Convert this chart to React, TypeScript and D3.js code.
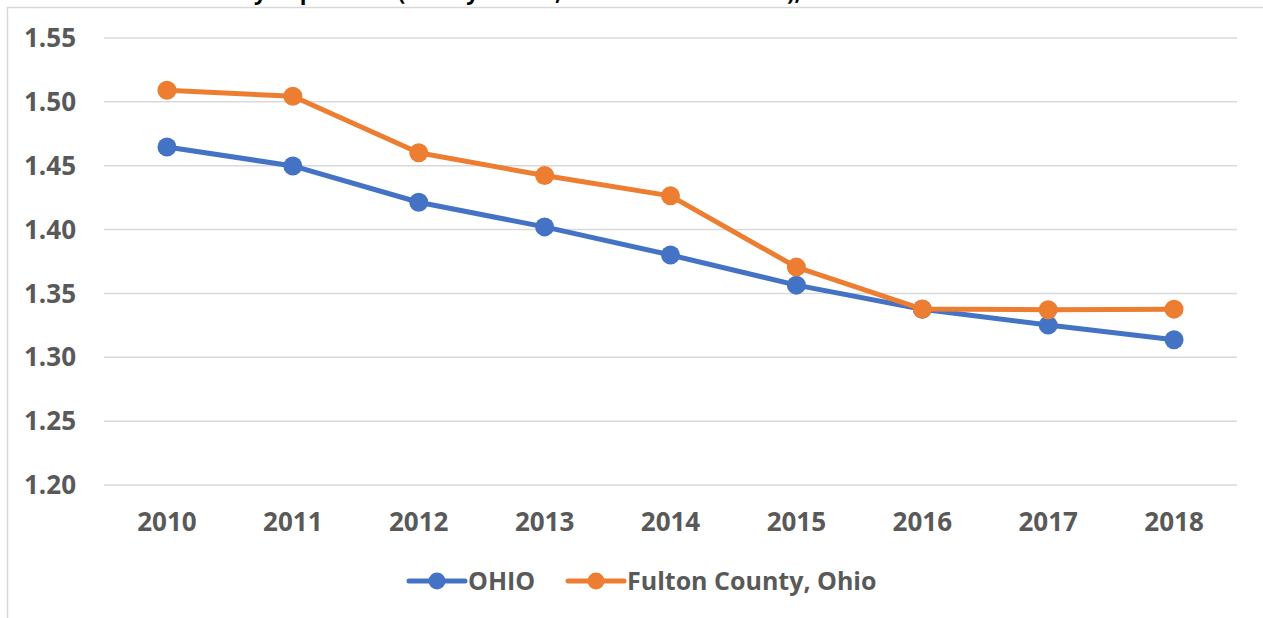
import React from "react";
import * as d3 from "d3";

const years = ["2010", "2011", "2012", "2013", "2014", "2015", "2016", "2017", "2018"];
const ohio = [1.4647, 1.4498, 1.4214, 1.4021, 1.3801, 1.3565, 1.3376, 1.3252, 1.3137];
const fulton = [1.5091, 1.5044, 1.4601, 1.4423, 1.4264, 1.3706, 1.3378, 1.3372, 1.3377];
const yTicks = [1.2, 1.25, 1.3, 1.35, 1.4, 1.45, 1.5, 1.55];
const seriesNames = ["OHIO", "Fulton County, Ohio"];
const colors = ["#4472C4", "#ED7D31"];
const title = "Ratio of Fulton County Population (Per 1 year old, Persons 65 and over), 2010-2018";

const W = 1263;
const H = 618;
const font = "'Open Sans', 'DejaVu Sans', sans-serif";
const grey = "#595959";

export default function App() {
  const x = d3.scalePoint<string>().domain(years).range([104, 1237]).padding(0.5);
  const y = d3.scaleLinear().domain([1.2, 1.55]).range([485, 38]);

  const line = d3
    .line<number>()
    .x((_, i) => x(years[i]) as number)
    .y((d) => y(d));

  const series = [ohio, fulton];

  // legend positions
  const legend = [
    { lx1: 409, lx2: 465, tx: 468 },
    { lx1: 568, lx2: 624, tx: 627 },
  ];
  const legendY = 581;

  return (
    <svg
      width={W}
      height={H}
      style={{ position: "absolute", left: 0, top: 0, background: "#fff" }}
    >
      {/* title sits mostly above the visible area, as in the source crop */}
      <text x={20} y={0} fontFamily={font} fontWeight={700} fontSize={22} fill="#000">
        {title}
      </text>
      <rect x={7.5} y={7.5} width={1400} height={800} fill="none" stroke="#d9d9d9" strokeWidth={1.5} />

      {yTicks.map((t) => (
        <g key={t}>
          <line x1={104} x2={1237} y1={y(t)} y2={y(t)} stroke="#d9d9d9" strokeWidth={1.5} />
          <text
            x={76}
            y={y(t)}
            dy="0.35em"
            textAnchor="end"
            fontFamily={font}
            fontWeight={700}
            fontSize={26}
            fill={grey}
          >
            {t.toFixed(2)}
          </text>
        </g>
      ))}

      {years.map((yr) => (
        <text
          key={yr}
          x={x(yr)}
          y={522}
          dy="0.35em"
          textAnchor="middle"
          fontFamily={font}
          fontWeight={700}
          fontSize={26}
          fill={grey}
        >
          {yr}
        </text>
      ))}

      {series.map((s, si) => (
        <g key={si}>
          <path d={line(s) ?? ""} fill="none" stroke={colors[si]} strokeWidth={5} strokeLinejoin="round" />
          {s.map((v, i) => (
            <circle key={i} cx={x(years[i])} cy={y(v)} r={9.5} fill={colors[si]} />
          ))}
        </g>
      ))}

      {legend.map((l, i) => (
        <g key={i}>
          <line
            x1={l.lx1}
            x2={l.lx2}
            y1={legendY}
            y2={legendY}
            stroke={colors[i]}
            strokeWidth={5}
            strokeLinecap="round"
          />
          <circle cx={(l.lx1 + l.lx2) / 2} cy={legendY} r={8.5} fill={colors[i]} />
          <text
            x={l.tx}
            y={legendY}
            dy="0.35em"
            fontFamily={font}
            fontWeight={700}
            fontSize={25}
            fill={grey}
          >
            {seriesNames[i]}
          </text>
        </g>
      ))}
    </svg>
  );
}
